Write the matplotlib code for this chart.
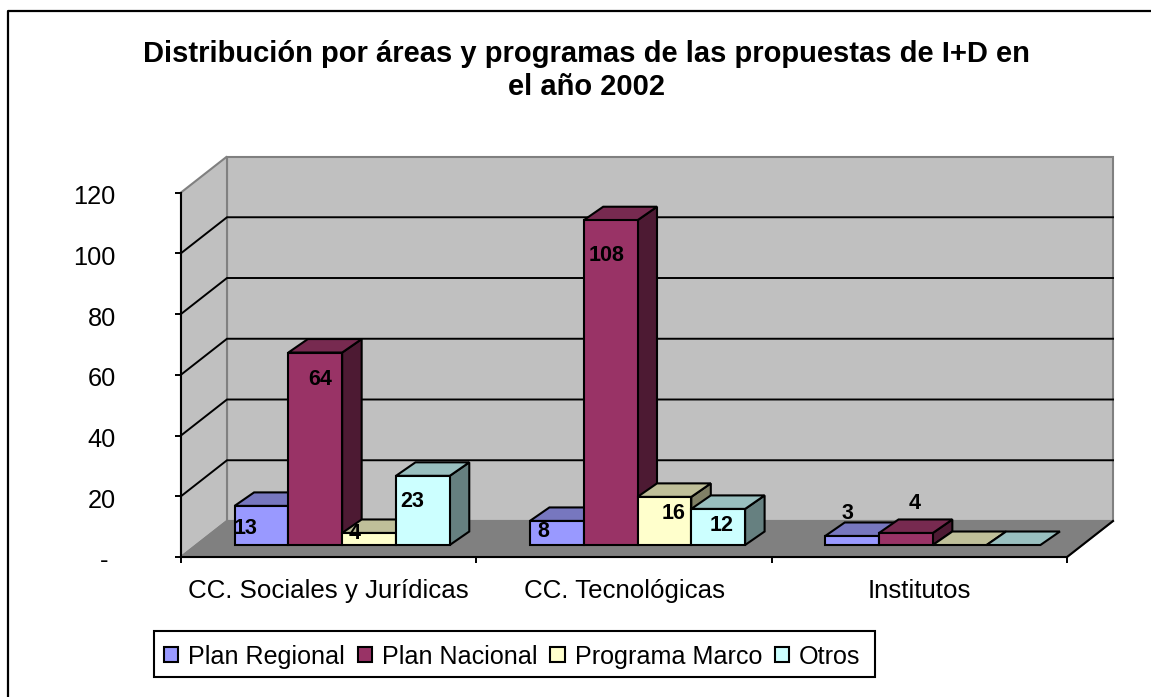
import matplotlib
matplotlib.use("Agg")
import matplotlib.pyplot as plt
from matplotlib.patches import Polygon, Patch, Rectangle
from matplotlib.lines import Line2D
from matplotlib.transforms import ScaledTranslation

# ---- data ----
categories = ["CC. Sociales y Jurídicas", "CC. Tecnológicas", "Institutos"]
series_names = ["Plan Regional", "Plan Nacional", "Programa Marco", "Otros"]
plan_regional = [13, 8, 3]
plan_nacional = [64, 108, 4]
programa_marco = [4, 16, 0]
otros = [23, 12, 0]
y_ticks = [0, 20, 40, 60, 80, 100, 120]
y_tick_labels = ["- ", "20", "40", "60", "80", "100", "120"]
title = "Distribución por áreas y programas de las propuestas de I+D en\nel año 2002"

# ---- style ----
W, H = 1151, 697
front_colors = ["#9999FF", "#993366", "#FFFFCC", "#CCFFFF"]
top_colors = ["#7777BF", "#772A50", "#BFBF99", "#99BFBF"]
side_colors = ["#5C5C99", "#4D1A33", "#808066", "#668080"]
# label offsets in pixels from the bar's front-top centre (right, up)
label_offsets = [
    [(-16, -23), (5, -27), (-14, -1), (-11, -26)],
    [(-13, -11), (-4, -35), (9, -17), (3, -17)],
    [(-5, 22), (9, 29), None, None],
]

fig = plt.figure(figsize=(W / 100, H / 100), dpi=100, facecolor="white")
L, R, T, B = 181, 1067, 192.5, 557
ax = fig.add_axes([L / W, 1 - B / H, (R - L) / W, (B - T) / H])
ax.set_xlim(0, 3)
ax.set_ylim(0, 120)
ax.patch.set_visible(False)
FONT = "Liberation Sans"

px_x = (R - L) / 3
px_y = (B - T) / 120


def pt(x, y, dx=0, dy=0):
    """Data position shifted by a depth offset in pixels."""
    return (x + dx / px_x, y + dy / px_y)


DX, DY = 46, 36        # depth of the floor
BX0, BY0 = 13.5, 12    # front plane of bars
BDX, BDY = 19.5, 13.5  # depth of bars
BAR_W = 53.8 / px_x
SCALE = 0.99


def poly(points, fc, ec="black", lw=1.5, z=2):
    ax.add_patch(Polygon(points, closed=True, facecolor=fc, edgecolor=ec,
                         linewidth=lw, zorder=z, clip_on=False, joinstyle="miter"))


# walls and floor
poly([pt(0, 0, DX, DY), pt(3, 0, DX, DY), pt(3, 120, DX, DY), pt(0, 120, DX, DY)], "#C0C0C0", "#808080", 1.5, 1)
poly([pt(0, 0), pt(0, 0, DX, DY), pt(0, 120, DX, DY), pt(0, 120)], "#C0C0C0", "#808080", 1.5, 1)
poly([pt(0, 0), pt(3, 0), pt(3, 0, DX, DY), pt(0, 0, DX, DY)], "#808080", "#808080", 1.5, 1.1)

# gridlines on the left wall and back wall
for v in y_ticks[1:-1]:
    a, b, c = pt(0, v), pt(0, v, DX, DY), pt(3, v, DX, DY)
    ax.plot([a[0], b[0], c[0]], [a[1], b[1], c[1]], color="black", lw=1.4, zorder=1.5,
            clip_on=False, solid_joinstyle="miter")
# right edge of the floor
a, b = pt(3, 0), pt(3, 0, DX, DY)
ax.plot([a[0], b[0]], [a[1], b[1]], color="black", lw=1.5, zorder=1.6, clip_on=False)

# bars
series = [plan_regional, plan_nacional, programa_marco, otros]
for c in range(len(categories)):
    x0 = c + (1 - 4 * BAR_W) / 2
    for s, vals in enumerate(series):
        v = vals[c] * SCALE
        xa, xb = x0 + s * BAR_W, x0 + (s + 1) * BAR_W
        z = 2 + s * 0.1
        if v > 0:
            poly([pt(xb, 0, BX0, BY0), pt(xb, 0, BX0 + BDX, BY0 + BDY), pt(xb, v, BX0 + BDX, BY0 + BDY), pt(xb, v, BX0, BY0)],
                 side_colors[s], z=z)
        poly([pt(xa, v, BX0, BY0), pt(xb, v, BX0, BY0), pt(xb, v, BX0 + BDX, BY0 + BDY), pt(xa, v, BX0 + BDX, BY0 + BDY)],
             top_colors[s], z=z)
        if v > 0:
            poly([pt(xa, 0, BX0, BY0), pt(xb, 0, BX0, BY0), pt(xb, v, BX0, BY0), pt(xa, v, BX0, BY0)],
                 front_colors[s], z=z)
for c in range(len(categories)):
    x0 = c + (1 - 4 * BAR_W) / 2
    for s, vals in enumerate(series):
        off = label_offsets[c][s]
        if off is None:
            continue
        xm = x0 + (s + 0.5) * BAR_W
        ax.annotate(str(vals[c]), xy=pt(xm, vals[c] * SCALE, BX0, BY0),
                    xytext=(off[0] * 0.72, off[1] * 0.72), textcoords="offset points",
                    ha="center", va="center", fontsize=15.5, fontweight="bold",
                    family=FONT, color="black", zorder=5, annotation_clip=False)

# axes
for name in ("top", "right"):
    ax.spines[name].set_visible(False)
for name in ("left", "bottom"):
    ax.spines[name].set_linewidth(1.5)
    ax.spines[name].set_zorder(1.7)
ax.set_yticks(y_ticks)
ax.set_yticklabels(y_tick_labels, family=FONT, fontsize=18.3)
ax.set_xticks([0, 1, 2, 3])
ax.set_xticklabels([])
ax.set_xticks([0.5, 1.5, 2.5], minor=True)
ax.set_xticklabels(categories, minor=True, family=FONT, fontsize=18.6)
ax.tick_params(axis="y", length=4, width=1.4, pad=43)
ax.tick_params(axis="x", which="major", length=4, width=1.4)
ax.tick_params(axis="x", which="minor", length=0, pad=16)
shift = ScaledTranslation(0, -2 / 100, fig.dpi_scale_trans)
for lab in ax.get_yticklabels():
    lab.set_transform(lab.get_transform() + shift)

# title
fig.text(586 / W, 1 - 70.5 / H, title, ha="center", va="center", family=FONT, fontsize=21,
         fontweight="bold", linespacing=1.22)

# chart frame: left and top only
fig.add_artist(Line2D([8 / W, 8 / W, 1], [0, 1 - 11 / H, 1 - 11 / H], color="black", lw=1.6,
                      transform=fig.transFigure))

# legend
ax.add_patch(Rectangle((154 / W, 1 - 677 / H), 721 / W, 46 / H, transform=fig.transFigure,
                       facecolor="white", edgecolor="black", linewidth=1.5, zorder=9, clip_on=False))
handles = [Patch(facecolor=c, edgecolor="black", linewidth=1.5) for c in front_colors]
leg = ax.legend(handles, series_names, ncols=4, loc="upper left",
                bbox_to_anchor=(153.5 / W, 1 - 634 / H), bbox_transform=fig.transFigure,
                frameon=False,
                borderaxespad=0, borderpad=0.42, handlelength=0.56, handleheight=0.56,
                handletextpad=0.4, columnspacing=0.52,
                prop={"family": FONT, "size": 18.05})
leg.set_zorder(10)

fig.savefig("out.png", dpi=100)
